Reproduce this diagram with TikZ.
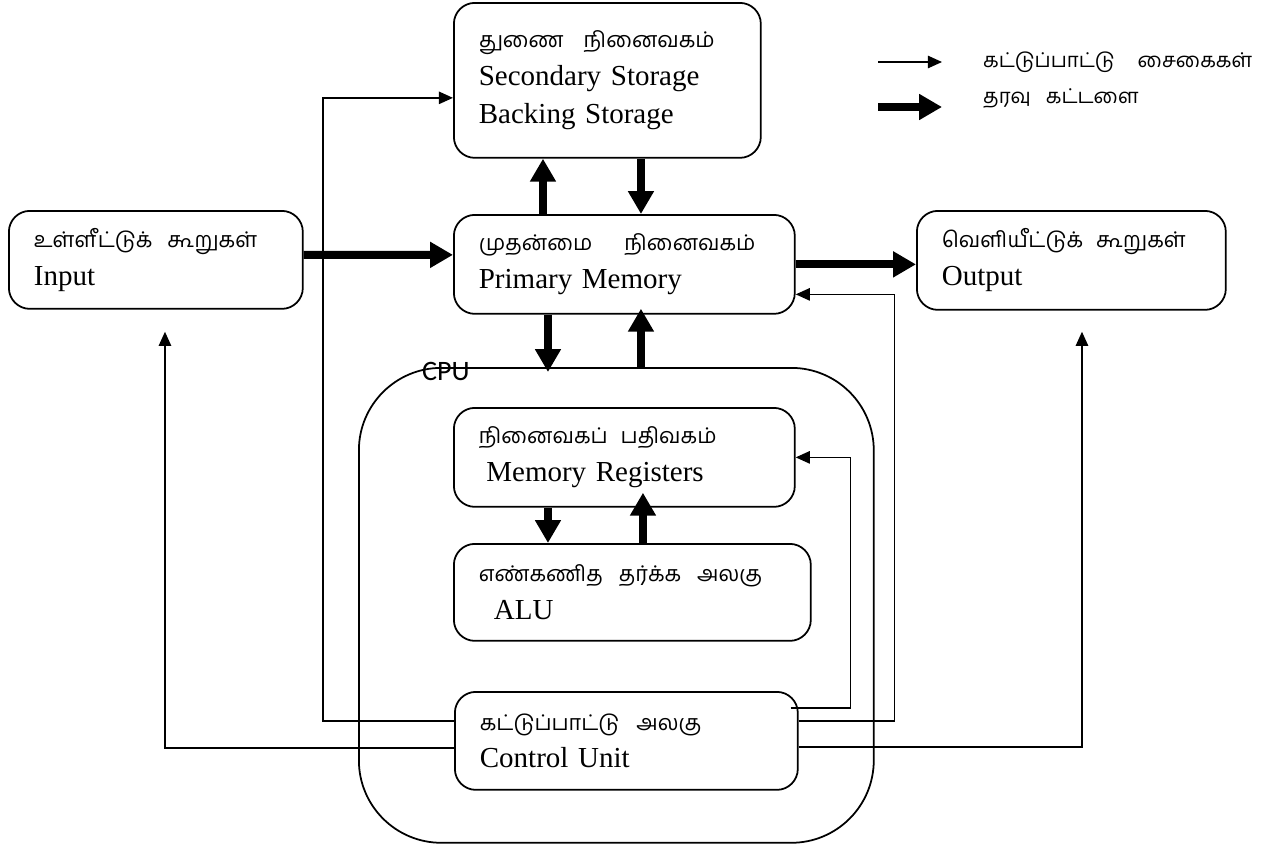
\documentclass[tikz,border=0pt]{standalone}
\usepackage{fontspec}
\setmainfont{Liberation Serif}
\newfontfamily\tamilfont[Script=Tamil]{Hind Madurai}
\newcommand\tamil{\tamilfont\fontsize{12.3}{21.5}\selectfont}
\newcommand\tamilsmall{\tamilfont\fontsize{11.6}{21.5}\selectfont}
\newfontfamily\cpufont{Carlito}
\usetikzlibrary{arrows.meta}

\begin{document}
\begin{tikzpicture}[
    x=0.02cm, y=-0.02cm,
    every node/.style={font=\fontsize{16.5}{21.5}\selectfont},
    box/.style={
        draw,
        line width=1pt,
        rounded corners=0.42cm,
        anchor=north west,
        inner xsep=0.5cm,
        inner ysep=0pt,
        align=left
    },
    ctrl/.style={-{Triangle[length=8pt,width=7pt]}, line width=0.9pt},
    data/.style={-{Triangle[length=13pt,width=14pt]}, line width=4.5pt}
]
\useasboundingbox (0,0) rectangle (1282,845);

% CPU frame
\node[draw, line width=1pt, rounded corners=1.65cm, minimum width=10.3cm,
      minimum height=9.5cm, anchor=north west] (cpu) at (358,367) {};
\node[font=\cpufont\fontsize{16}{18}\selectfont] (cpulabel) at (446,371) {CPU};

% Units
\node[box, text width=5.14cm, minimum height=3.1cm] (sec) at (453,2)
    {{\tamil துணை\hspace{0.4cm}நினைவகம்}\\Secondary Storage\\Backing Storage};
\node[box, text width=4.88cm, minimum height=1.96cm] (inp) at (8,210)
    {{\tamil உள்ளீட்டுக்\hspace{0.3cm}கூறுகள்}\\Input};
\node[box, text width=5.82cm, minimum height=1.98cm] (prim) at (453,214)
    {{\tamil முதன்மை\hspace{0.64cm}நினைவகம்}\\Primary Memory};
\node[box, text width=5.18cm, minimum height=1.98cm] (out) at (916,210)
    {{\tamil வெளியீட்டுக்\hspace{0.26cm}கூறுகள்}\\Output};
\node[box, text width=5.82cm, minimum height=1.98cm] (reg) at (453,407)
    {{\tamil நினைவகப்\hspace{0.26cm}பதிவகம்}\\\hspace*{0.15cm}Memory Registers};
\node[box, text width=6.14cm, minimum height=1.94cm] (alu) at (453,543)
    {{\tamil எண்கணித\hspace{0.32cm}தர்க்க\hspace{0.32cm}அலகு}\\\hspace*{0.3cm}ALU};
\node[box, text width=5.86cm, minimum height=1.96cm] (cu) at (454,691)
    {{\tamil கட்டுப்பாட்டு\hspace{0.34cm}அலகு}\\Control Unit};

% Legend
\node[anchor=west] (lgctrl) at (977,62) {\tamilsmall கட்டுப்பாட்டு\hspace{0.46cm}சைகைகள்};
\node[anchor=west] (lgdata) at (977,98) {\tamilsmall தரவு\hspace{0.3cm}கட்டளை};
\draw[ctrl] ([xshift=-1.98cm]lgctrl.west) -- ([xshift=-0.7cm]lgctrl.west);
\draw[data] ([xshift=-1.98cm,yshift=-0.18cm]lgdata.west) -- ([xshift=-0.7cm,yshift=-0.18cm]lgdata.west);

% Data flow
\draw[data] ([yshift=0.1cm]inp.east) -- ([yshift=0.19cm]prim.west);
\draw[data] (prim.east) -- (prim.east -| out.west);
\draw[data] ([xshift=1.8cm]prim.north west) -- ([xshift=1.8cm]prim.north west |- sec.south);
\draw[data] ([xshift=3.76cm]sec.south west) -- ([xshift=3.76cm]sec.south west |- prim.north);
\draw[data] ([xshift=1.9cm]prim.south west) -- ([xshift=1.9cm,yshift=-0.1cm]prim.south west |- cpu.north);
\draw[data] ([xshift=3.76cm]prim.south west |- cpu.north) -- ([xshift=3.76cm,yshift=0.12cm]prim.south west);
\draw[data] ([xshift=1.9cm]reg.south west) -- ([xshift=1.9cm]reg.south west |- alu.north);
\draw[data] ([xshift=3.8cm]alu.north west) -- ([xshift=3.8cm,yshift=0.3cm]alu.north west |- reg.south);

% Control signals
\draw[ctrl] ([yshift=0.4cm]cu.west) -- ++(-131,0) |- ([yshift=-0.35cm]sec.west);
\draw[ctrl] ([yshift=-0.14cm]cu.west) -| ([xshift=3.14cm,yshift=-0.44cm]inp.south west);
\draw[ctrl] ([xshift=-0.16cm,yshift=0.66cm]cu.east) -- ++(60,0) |- (reg.east);
\draw[ctrl] ([yshift=0.4cm]cu.east) -- ++(96,0) |- ([yshift=-0.6cm]prim.east);
\draw[ctrl] ([yshift=-0.12cm]cu.east) -| ([xshift=3.32cm,yshift=-0.42cm]out.south west);

\end{tikzpicture}
\end{document}
